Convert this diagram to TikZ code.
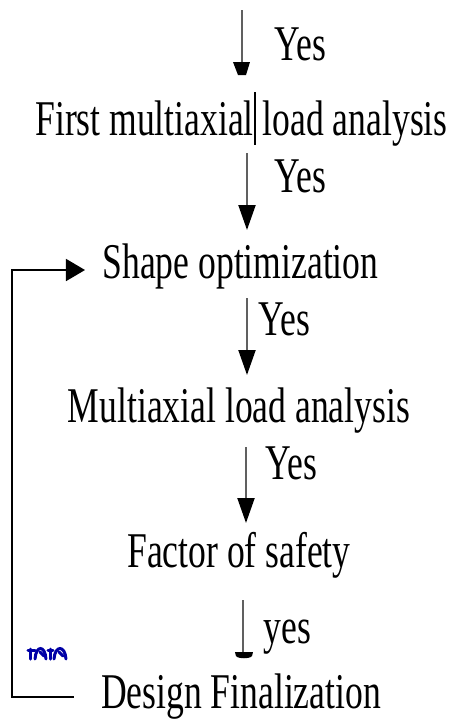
\documentclass[tikz,border=0pt]{standalone}
\usepackage{fontspec}
\setmainfont[FakeStretch=0.712]{Liberation Serif}
\usetikzlibrary{arrows.meta}
\tikzset{
  lbl/.style={inner sep=0pt, font=\fontsize{25}{30}\selectfont, text=black},
  flow/.style={draw=gray!75!black, line width=1pt, -{Triangle[width=8.5pt,length=12.5pt,color=black]}},
  flowbare/.style={draw=gray!75!black, line width=1pt},
  loopline/.style={draw=black, line width=0.8pt},
  headfill/.style={fill=black, draw=none}
}
\begin{document}
\begin{tikzpicture}[x=0.5pt,y=-0.5pt]
\useasboundingbox (0,0) rectangle (453,720);
% labels and steps
\node[lbl, anchor=base west] (yes1) at (274,60) {Yes};
\node[lbl, anchor=base] (first) at (241.5,135) {First multiaxial load analysis};
\node[lbl, anchor=base west] (yes2) at (274,192) {Yes};
\node[lbl, anchor=base] (shape) at (240.5,278) {Shape optimization};
\node[lbl, anchor=base west] (yes3) at (258,335) {Yes};
\node[lbl, anchor=base] (multi) at (239,422) {Multiaxial load analysis};
\node[lbl, anchor=base west] (yes4) at (265,479) {Yes};
\node[lbl, anchor=base] (fos) at (239,567) {Factor of safety};
\node[lbl, anchor=base west] (yes5) at (263,643) {yes};
\node[lbl, anchor=base] (design) at (241,708) {Design Finalization};
% connector end points
\coordinate (a1s) at (242,10);  \coordinate (a1e) at (242,63);
\coordinate (a2s) at (247,153); \coordinate (a2e) at (247,230);
\coordinate (a3s) at (247,298); \coordinate (a3e) at (247,375);
\coordinate (a4s) at (246,447); \coordinate (a4e) at (246,523);
\coordinate (a5s) at (243,600); \coordinate (a5e) at (243,652);
\coordinate (fbs) at (74,697);  \coordinate (fbc1) at (12,697);
\coordinate (fbc2) at (12,270); \coordinate (fbe) at (85,270);
% arrows
\draw[flowbare] (a1s) -- (a1e);
\fill[headfill] (233,62) -- (250,62) -- (246,75) -- (238,75) -- cycle;
\draw[flow] (a2s) -- (a2e);
\draw[flow] (a3s) -- (a3e);
\draw[flow] (a4s) -- (a4e);
\draw[flowbare] (a5s) -- (a5e);
\fill[headfill] (235,652) -- (253,652) -- (252,656) .. controls (250,659) and (238,659) .. (236,656) -- cycle;
% feedback loop
\draw[loopline, -{Triangle[width=11pt,length=9.5pt]}] (fbs) -- (fbc1) -- (fbc2) -- (fbe);
% text cursor mark
\draw[black, line width=0.7pt] (255,92) -- (255,145);
% small blue mark
\begin{scope}[draw=blue!65!black, line width=1.5pt, line cap=round]
\draw (28,650) -- (35,650) (31,649) -- (31,659);
\draw (35,659) .. controls (36,645) and (45,645) .. (46,659);
\draw (40,652) -- (44,656);
\draw (48,650) -- (53,650) (51,649) -- (51,659);
\draw (54,659) .. controls (55,645) and (65,645) .. (66,659);
\draw (59,652) -- (63,656);
\end{scope}
\end{tikzpicture}
\end{document}
